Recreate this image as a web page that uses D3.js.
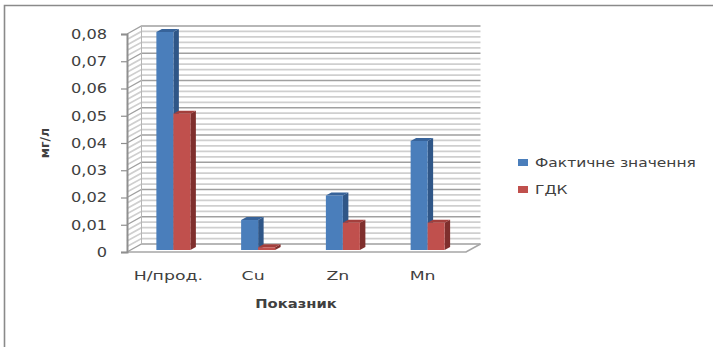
<!DOCTYPE html>
<html><head><meta charset="utf-8">
<script src="https://cdn.jsdelivr.net/npm/d3@7/dist/d3.min.js"></script>
<style>html,body{margin:0;background:#fff}svg{display:block}text{font-family:"DejaVu Sans",sans-serif;fill:#404040}</style>
</head><body><svg id="chart" width="713" height="347"></svg>
<script>
const categories = ["Н/прод.", "Cu", "Zn", "Mn"];
const seriesNames = ["Фактичне значення", "ГДК"];
const actual = [0.08, 0.011, 0.02, 0.04];
const limit = [0.05, 0.001, 0.01, 0.01];
const majorTicks = [0, 0.01, 0.02, 0.03, 0.04, 0.05, 0.06, 0.07, 0.08];
const minorTicks = [0.002, 0.004, 0.006, 0.008, 0.012, 0.014, 0.016, 0.018, 0.022, 0.024, 0.026, 0.028, 0.032, 0.034, 0.036, 0.038, 0.042, 0.044, 0.046, 0.048, 0.052, 0.054, 0.056, 0.058, 0.062, 0.064, 0.066, 0.068, 0.072, 0.074, 0.076, 0.078];
const colors = ["#4a7ebb", "#c0504d"];
const sideColors = ["#2f5687", "#7f2f2d"];
const topColors = ["#37639a", "#a33f3c"];

const svg = d3.select("#chart");
const fmt = d => String(+d.toFixed(2)).replace(".", ",");

// The labels are set wide: stretch each glyph run horizontally by a factor.
function widen(selection, factor) {
  selection.each(function () {
    const len = this.getComputedTextLength();
    d3.select(this).attr("textLength", len * factor).attr("lengthAdjust", "spacingAndGlyphs");
  });
}

// Oblique projection: the back wall sits up and to the right of the front plane.
const plotLeft = 127, plotRight = 466, plotBase = 252, plotTop = 34, wallDx = 14.5, wallDy = 8;
const y = d3.scaleLinear().domain([0, 0.08]).range([plotBase, plotTop]);
const x = d3.scaleBand().domain(categories).range([plotLeft, plotRight]);
const barW = 17, depthX = 5.5, depthY = 3;

// Frame of the chart area
svg.append("path").attr("d", "M4.5,347V5.5H713").attr("fill", "none").attr("stroke", "#8a8a8a").attr("stroke-width", 1.6);

// Minor and major lines on the back wall, with their run along the side wall
const wall = svg.append("g").attr("fill", "none");
const wallLine = d => `M${plotLeft},${y(d)}L${plotLeft + wallDx},${y(d) - wallDy}H${plotRight + wallDx}`;
wall.selectAll(".minor").data(minorTicks).join("path").attr("class", "minor")
  .attr("d", wallLine).attr("stroke", "#cfcfcf").attr("stroke-width", 1.7);
wall.selectAll(".major").data(majorTicks).join("path").attr("class", "major")
  .attr("d", wallLine).attr("stroke", "#a0a0a0").attr("stroke-width", 1.3);
wall.append("path").attr("d", `M${plotLeft + wallDx},${y(0) - wallDy}V${y(0.08) - wallDy}`).attr("stroke", "#b5b5b5");
// Floor outline
wall.append("path").attr("d", `M${plotLeft},${plotBase}H${plotRight}L${plotRight + wallDx},${plotBase - wallDy}`).attr("stroke", "#a6a6a6").attr("stroke-width", 1.6);

// Value axis
const axis = svg.append("g").attr("transform", `translate(${plotLeft},0)`)
  .call(d3.axisLeft(y).tickValues(majorTicks).tickFormat(fmt).tickSize(6).tickPadding(14));
axis.select(".domain").attr("stroke", "#8f8f8f").attr("stroke-width", 2);
axis.selectAll(".tick line").attr("stroke", "#8f8f8f").attr("stroke-width", 1.2);
axis.selectAll("text").attr("font-size", 13.5).attr("fill", "#404040").call(widen, 1.2);

// Columns: front, side and top faces
const offsetX = 4, offsetY = -2;
[actual, limit].forEach((values, s) => {
  const g = svg.append("g");
  const bars = g.selectAll("g").data(values).join("g")
    .attr("transform", (d, i) => `translate(${x(categories[i]) + x.bandwidth() / 2 + offsetX - barW + s * barW},${offsetY})`);
  bars.append("path").attr("fill", sideColors[s])
    .attr("d", d => `M${barW},${y(d)}l${depthX},${-depthY}V${y(0) - depthY}l${-depthX},${depthY}Z`);
  bars.append("path").attr("fill", topColors[s])
    .attr("d", d => `M0,${y(d)}l${depthX},${-depthY}h${barW}l${-depthX},${depthY}Z`);
  bars.append("rect").attr("fill", colors[s]).attr("width", barW)
    .attr("y", d => y(d)).attr("height", d => y(0) - y(d));
});

// Category labels
svg.append("g").selectAll("text").data(categories).join("text")
  .attr("x", d => x(d) + x.bandwidth() / 2 - 1).attr("y", 280).attr("text-anchor", "middle")
  .attr("font-size", 13).text(d => d).call(widen, 1.33);

// Axis titles
svg.append("text").attr("x", 296).attr("y", 308).attr("text-anchor", "middle")
  .attr("font-size", 12.5).attr("font-weight", "bold").attr("fill", "#222").text("Показник").call(widen, 1.18);
svg.append("text").attr("transform", "translate(49,143) rotate(-90)").attr("text-anchor", "middle")
  .attr("font-size", 12.5).attr("font-weight", "bold").attr("fill", "#222").text("мг/л");

// Legend
const legend = svg.append("g").selectAll("g").data(seriesNames).join("g")
  .attr("transform", (d, i) => `translate(518,${164 + i * 27})`);
legend.append("rect").attr("y", -5).attr("width", 10).attr("height", 7).attr("fill", (d, i) => colors[i]);
legend.append("text").attr("x", 17).attr("y", 3).attr("font-size", 13).text(d => d).call(widen, 1.19);
</script></body></html>
